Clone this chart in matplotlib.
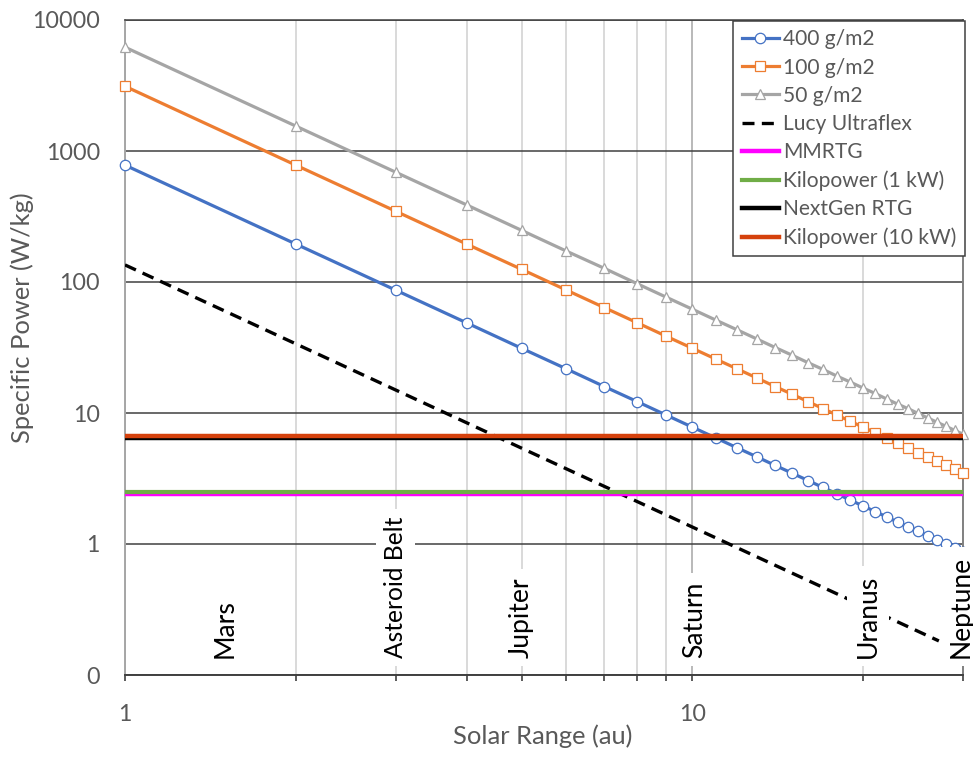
import matplotlib
matplotlib.use("Agg")
import matplotlib.pyplot as plt
from matplotlib.ticker import FixedLocator, NullLocator, FixedFormatter, NullFormatter
from matplotlib.textpath import TextPath
from matplotlib.font_manager import FontProperties

# ---- data ----
au = list(range(1, 31))
p400 = [780, 195, 86.7, 48.8, 31.2, 21.7, 15.9, 12.2, 9.63, 7.80,
        6.45, 5.42, 4.62, 3.98, 3.47, 3.05, 2.70, 2.41, 2.16, 1.95,
        1.77, 1.61, 1.47, 1.35, 1.25, 1.15, 1.07, 0.995, 0.927, 0.867]
p100 = [3120, 780, 347, 195, 125, 86.7, 63.7, 48.8, 38.5, 31.2,
        25.8, 21.7, 18.5, 15.9, 13.9, 12.2, 10.8, 9.63, 8.64, 7.80,
        7.07, 6.45, 5.90, 5.42, 4.99, 4.62, 4.28, 3.98, 3.71, 3.47]
p50 = [6200, 1550, 689, 388, 248, 172, 127, 96.9, 76.5, 62.0,
       51.2, 43.1, 36.7, 31.6, 27.6, 24.2, 21.5, 19.1, 17.2, 15.5,
       14.1, 12.8, 11.7, 10.8, 9.92, 9.17, 8.50, 7.91, 7.37, 6.89]
lucy_x = [1, 27.2]
lucy_y = [135, 0.182]
mmrtg = 2.4
kilo1 = 2.5
nextgen = 6.5
kilo10 = 6.7
planets = ["Mars", "Asteroid Belt", "Jupiter", "Saturn", "Uranus", "Neptune"]
planet_x = [1.5, 3.0, 5.0, 10.1, 20.4, 29.8]
planet_label_y = 0.135
yticks = [0.1, 1, 10, 100, 1000, 10000]
ytick_labels = ["0", "1", "10", "100", "1000", "10000"]
xticks_major = [1, 10]
xtick_labels = ["1", "10"]
xticks_minor = [2, 3, 4, 5, 6, 7, 8, 9, 20, 30]

FONT = "Lato"
TXT = "#595959"
plt.rcParams["font.family"] = [FONT, "DejaVu Sans"]


def _ink(s):
    return TextPath((0, 0), s, size=100, prop=FontProperties(family=FONT)).get_extents()


def fit(pairs):
    # font size (pt) whose ink width matches target pixel widths at 100 dpi
    vals = [px * 72.0 / _ink(s).width for s, px in pairs]
    return sum(vals) / len(vals)


TICK_FS = fit([("10000", 65), ("1000", 51)])
TITLE_FS = fit([("Solar Range (au)", 181), ("Specific Power (W/kg)", 243)])
LEG_FS = fit([("Kilopower (10 kW)", 174), ("400 g/m2", 89)])
PLAN_FS = fit([("Mars", 57), ("Jupiter", 78), ("Saturn", 73),
               ("Uranus", 80), ("Neptune", 100)])
BELT_FS = fit([("Asteroid Belt", 141)])

fig = plt.figure(figsize=(9.73, 7.61), dpi=100)
ax = fig.add_axes([125/973, 1-675/761, (963-125)/973, (675-20)/761])
ax.set_xscale("log")
ax.set_yscale("log")
ax.set_xlim(1, 30)
ax.set_ylim(0.1, 10000)

ax.plot(au, p400, color="#4472C4", lw=2.3, marker="o", ms=7.5, mfc="white",
        mec="#4472C4", mew=0.9, label="400 g/m2", clip_on=False, zorder=3)
ax.plot(au, p100, color="#ED7D31", lw=2.3, marker="s", ms=7.5, mfc="white",
        mec="#ED7D31", mew=0.9, label="100 g/m2", clip_on=False, zorder=3.1)
ax.plot(au, p50, color="#A5A5A5", lw=2.3, marker="^", ms=7.5, mfc="white",
        mec="#A5A5A5", mew=0.9, label="50 g/m2", clip_on=False, zorder=3.2)
ax.plot(lucy_x, lucy_y, color="black", lw=2.4, dashes=(3.6, 2.2),
        label="Lucy Ultraflex", zorder=3.3)
ax.axhline(mmrtg, color="#FF00FF", lw=3.2, label="MMRTG", zorder=3.4)
ax.axhline(kilo1, color="#70AD47", lw=3.0, label="Kilopower (1 kW)", zorder=3.5)
ax.axhline(nextgen, color="black", lw=3.2, label="NextGen RTG", zorder=3.6)
ax.axhline(kilo10, color="#D5410C", lw=3.2, label="Kilopower (10 kW)", zorder=3.7)

# ticks
ax.yaxis.set_major_locator(FixedLocator(yticks))
ax.yaxis.set_major_formatter(FixedFormatter(ytick_labels))
ax.yaxis.set_minor_locator(NullLocator())
ax.xaxis.set_major_locator(FixedLocator(xticks_major))
ax.xaxis.set_major_formatter(FixedFormatter(xtick_labels))
ax.xaxis.set_minor_locator(FixedLocator(xticks_minor))
ax.xaxis.set_minor_formatter(NullFormatter())
ax.tick_params(axis="y", length=0, pad=18, labelsize=TICK_FS, labelcolor=TXT)
ax.tick_params(axis="x", which="both", direction="out", length=4, width=1.2,
               color="#404040", pad=17, labelsize=TICK_FS, labelcolor=TXT)

# grid
ax.yaxis.grid(True, which="major", color="#404040", lw=1.1, zorder=1)
ax.xaxis.grid(True, which="major", color="#A6A6A6", lw=1.1, zorder=1)
ax.xaxis.grid(True, which="minor", color="#D0D0D0", lw=1.1, zorder=1)
ax.set_axisbelow(True)

ax.spines["left"].set_color("#A6A6A6")
ax.spines["left"].set_linewidth(1.4)
ax.spines["bottom"].set_color("#404040")
ax.spines["bottom"].set_linewidth(1.4)
ax.spines["top"].set_color("#404040")
ax.spines["top"].set_linewidth(1.1)
ax.spines["right"].set_color("#808080")
ax.spines["right"].set_linewidth(1.4)

ax.set_xlabel("Solar Range (au)", fontsize=TITLE_FS, color=TXT)
ax.xaxis.label.set_va("center")
ax.xaxis.set_label_coords((542.5-125)/838, (675-736)/655)
ax.set_ylabel("Specific Power (W/kg)", fontsize=TITLE_FS, color=TXT)
ax.yaxis.label.set_va("center")
ax.yaxis.set_label_coords((22-125)/838, (675-318)/655)

for name, x in zip(planets, planet_x):
    fs = BELT_FS if name == "Asteroid Belt" else PLAN_FS
    ax.text(x, planet_label_y, name, rotation=90, ha="center", va="bottom",
            fontsize=fs, color="black", zorder=10, clip_on=False,
            bbox=dict(boxstyle="square,pad=0.32", fc="white", ec="none"))

leg_px = LEG_FS * 100 / 72
lp_px = _ink("lp").height * LEG_FS / 72
leg_spacing = (27.3 - lp_px) / leg_px
leg = ax.legend(loc="upper right", bbox_to_anchor=(965/973, 1-21/761),
                bbox_transform=fig.transFigure, borderaxespad=0, fontsize=LEG_FS,
                frameon=True, fancybox=False, edgecolor="#404040",
                framealpha=1, handlelength=1.75, handletextpad=0.22,
                labelspacing=leg_spacing, borderpad=0.4, numpoints=1)
leg.get_frame().set_linewidth(1.1)
for t in leg.get_texts():
    t.set_color(TXT)
leg.set_zorder(20)

fig.savefig("out.png", dpi=100)
